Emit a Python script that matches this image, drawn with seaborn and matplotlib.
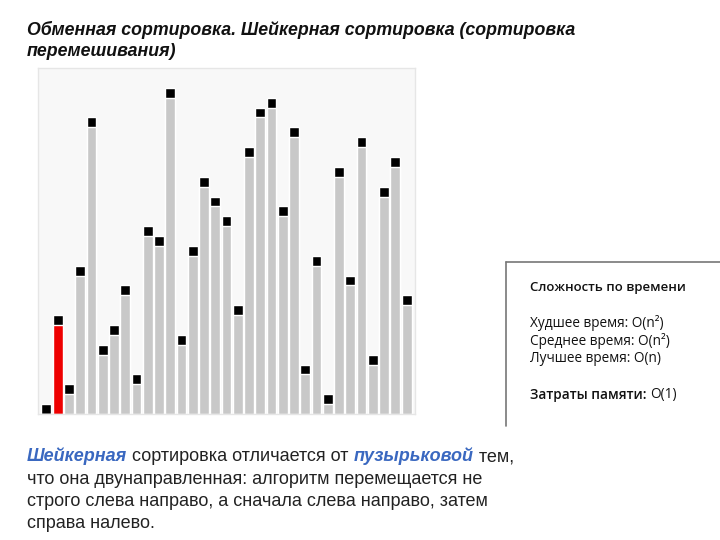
import matplotlib
matplotlib.use("Agg")
import matplotlib.pyplot as plt
import seaborn as sns
from matplotlib.lines import Line2D

# bar heights (a permutation of 1..33), second bar is the highlighted one
heights = [1, 10, 3, 15, 30, 7, 9, 13, 4, 19, 18, 33, 8, 17, 24, 22, 20,
           11, 27, 31, 32, 21, 29, 5, 16, 2, 25, 14, 28, 6, 23, 26, 12]
highlight = 1

title_lines = ["Обменная сортировка. Шейкерная сортировка (сортировка",
               "перемешивания)"]
box_title = "Сложность по времени"
box_lines = ["Худшее время: O(n²)", "Среднее время: O(n²)", "Лучшее время: O(n)"]
mem_label = "Затраты памяти: "
mem_value = "O(1)"
body = [
    [("Шейкерная", "hl"), (" сортировка отличается от ", "n"), ("пузырьковой", "hl"), (" тем,", "n")],
    [("что она двунаправленная: алгоритм перемещается не", "n")],
    [("строго слева направо, а сначала слева направо, затем", "n")],
    [("справа налево.", "n")],
]

sns.set_style("white")
plt.rcParams['font.family'] = ['Liberation Sans', 'DejaVu Sans']

W, H = 720, 540
fig = plt.figure(figsize=(7.2, 5.4), dpi=100)
fig.patch.set_facecolor("white")

def fx(px):
    return px / W

def fy(py):
    return 1 - py / H

# bar chart panel
ax = fig.add_axes([fx(38), fy(414), fx(415) - fx(38), fy(68) - fy(414)])
ax.set_facecolor("#f8f8f8")
idx = list(range(len(heights)))
caps = list(heights)
bodies = [h - 1 for h in heights]
colors = ["#ee0000" if i == highlight else "#c8c8c8" for i in idx]

sns.barplot(x=idx, y=caps, color="black", width=0.88, saturation=1, ax=ax)
sns.barplot(x=idx, y=bodies, hue=idx, palette=colors, width=0.88,
            saturation=1, legend=False, ax=ax)
ax.set_xlim(-0.75, len(heights) - 0.25)
ax.set_ylim(0, 35)
ax.set_xticks([])
ax.set_yticks([])
ax.set_xlabel("")
ax.set_ylabel("")
for s in ax.spines.values():
    s.set_color("#e6e6e6")
    s.set_linewidth(1)

# title
for i, line in enumerate(title_lines):
    fig.text(fx(27), fy(30 + i * 21), line, fontsize=12.8, fontweight="bold",
             fontstyle="italic", va="center", ha="left", color="#111111")

# complexity box (top and left edges)
fig.add_artist(Line2D([fx(506), fx(720)], [fy(262), fy(262)], color="#777777", lw=1.2))
fig.add_artist(Line2D([fx(506), fx(506)], [fy(262), fy(426)], color="#777777", lw=1.2))
box_font = ['Open Sans', 'DejaVu Sans']
fig.text(fx(530), fy(288), box_title, fontsize=9.5, fontweight="semibold",
         family=box_font, va="center", color="#111111")
for i, line in enumerate(box_lines):
    fig.text(fx(530), fy(323 + i * 18), line, fontsize=9.8, family=box_font,
             va="center", color="#111111")
t = fig.text(fx(530), fy(399), mem_label, fontsize=9.8, fontweight="semibold",
             family=box_font, va="baseline", color="#111111")
ax.annotate(mem_value, xy=(1, 0), xycoords=t, va="bottom", ha="left",
            fontsize=9.8, family=box_font, color="#111111", annotation_clip=False)

# body paragraph with highlighted words
for i, parts in enumerate(body):
    prev = None
    for txt, kind in parts:
        kw = dict(fontsize=13, color="#222222")
        if kind == "hl":
            kw.update(fontweight="bold", fontstyle="italic", color="#3a68c0")
        if prev is None:
            prev = fig.text(fx(27), fy(461 + i * 22.5), txt, va="baseline", ha="left", **kw)
        else:
            prev = ax.annotate(txt, xy=(1, 0), xycoords=prev, va="bottom", ha="left",
                               annotation_clip=False, **kw)

fig.savefig("out.png", dpi=100, facecolor="white")
